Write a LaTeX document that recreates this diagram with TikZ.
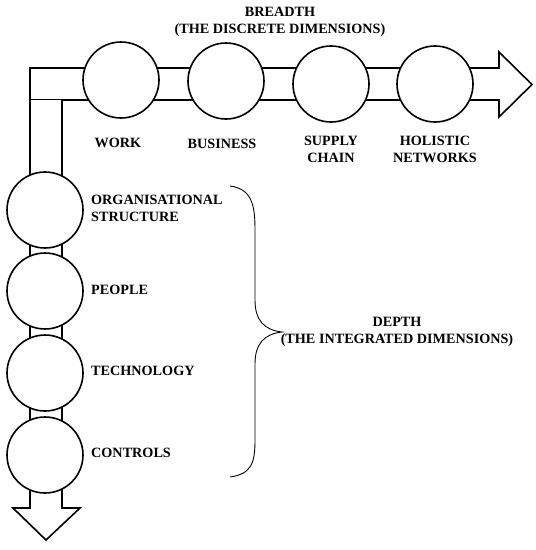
\documentclass[tikz,border=0pt]{standalone}
\usepackage{fontspec}
\setmainfont{Liberation Serif}[BoldFont={Liberation Serif Bold}]
\begin{document}
\begin{tikzpicture}[x=1pt,y=-1pt,
  bar/.style={draw=black,line width=1.6pt,fill=white,line join=miter},
  dim/.style={circle,draw=black,line width=1.6pt,fill=white,minimum size=76pt,inner sep=0pt},
  lbl/.style={font=\fontsize{14.2}{17}\selectfont\bfseries,align=center,inner sep=0pt},
  llbl/.style={font=\fontsize{14.2}{17}\selectfont\bfseries,align=left,anchor=west,inner sep=0pt}]
\useasboundingbox (0,0) rectangle (536,550);
% horizontal arrow (breadth)
\draw[bar] (30,68) -- (499,68) -- (499,52) -- (532,84.5) -- (499,117) -- (499,100) -- (30,100) -- cycle;
% vertical arrow (depth)
\draw[bar] (30,100) -- (30,508) -- (13,508) -- (46,540) -- (80,508) -- (62,508) -- (62,100);
% breadth circles
\node[dim] (work) at (121,80) {};
\node[dim] (business) at (226,81) {};
\node[dim] (supply) at (331,84) {};
\node[dim] (holistic) at (435,84) {};
% depth circles
\node[dim] (org) at (45,210) {};
\node[dim] (people) at (45,291) {};
\node[dim] (tech) at (45,373) {};
\node[dim] (controls) at (45,455) {};
% labels
\node[lbl] (breadth) at (280,22) {BREADTH\\(THE DISCRETE DIMENSIONS)};
\node[lbl] (lwork) at (118,143) {WORK};
\node[lbl] (lbusiness) at (222,144) {BUSINESS};
\node[lbl] (lsupply) at (331,149) {SUPPLY\\CHAIN};
\node[lbl] (lholistic) at (435,149) {HOLISTIC\\NETWORKS};
\node[llbl] (lorg) at (91,208) {ORGANISATIONAL\\STRUCTURE};
\node[llbl] (lpeople) at (91,290) {PEOPLE};
\node[llbl] (ltech) at (91,371) {TECHNOLOGY};
\node[llbl] (lcontrols) at (91,453) {CONTROLS};
\node[lbl] (depth) at (397,332) {DEPTH\\(THE INTEGRATED DIMENSIONS)};
% brace
\draw[line width=0.9pt] (230,186) .. controls (252,189) and (255,205) .. (255,230) -- (255,300)
  .. controls (255,320) and (264,330) .. (282,332)
  .. controls (264,334) and (255,344) .. (255,364) -- (255,440)
  .. controls (255,462) and (252,474) .. (230,477);
\end{tikzpicture}
\end{document}
